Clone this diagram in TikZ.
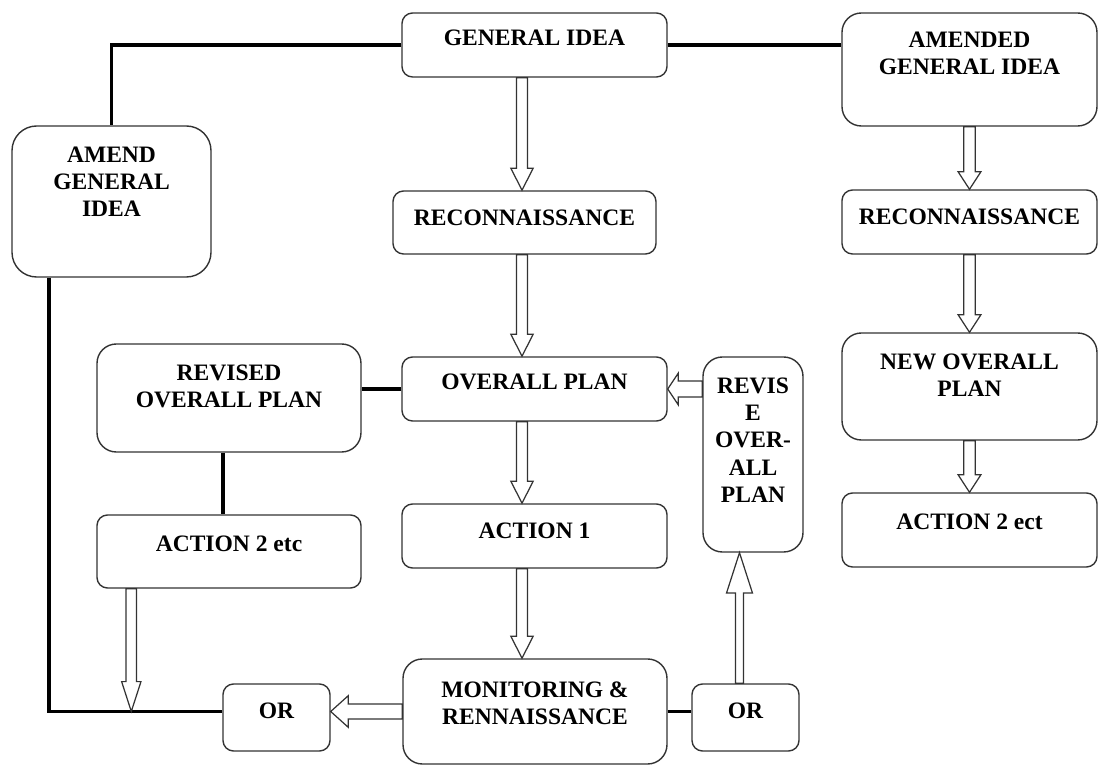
\documentclass[tikz,border=0pt]{standalone}
\usepackage{fontspec}
\setmainfont{Liberation Serif}
\usetikzlibrary{calc,fit,positioning}
\def\hollowarrow(#1)(#2)(#3:#4:#5){\path ($(#2)!#5!(#1)$) coordinate (ha);
	\draw[hollow] ($(#1)!#3!90:(#2)$) -- ($(ha)!#3!90:(#2)$) -- ($(ha)!#4!90:(#2)$) -- (#2) -- ($(ha)!#4!-90:(#2)$) -- ($(ha)!#3!-90:(#2)$) -- ($(#1)!#3!-90:(#2)$) -- cycle;}
\tikzset{
	box/.style={draw=black!80, line width=0.8pt, rounded corners=6pt, inner sep=0pt},
	bigbox/.style={box, rounded corners=11pt},
	lbl/.style={font=\fontsize{13.4}{15.5}\selectfont\bfseries, align=center, inner sep=0pt},
	link/.style={line width=2.2pt},
	hollow/.style={draw=black!80, line width=0.7pt, fill=white, line join=miter}
}
\begin{document}
\begin{tikzpicture}[x=0.02cm, y=-0.02cm]
		%%%%% START %%%%%
		\useasboundingbox (0, 0) rectangle (1100, 766);
		
		\node[box, fit={(402, 13) (667, 77)}] (gen) {};
		\node[lbl, below=10pt of gen.north] (gen-t) {GENERAL IDEA};
		\node[bigbox, fit={(842, 13) (1097, 126)}] (amended) {};
		\node[lbl, below=11pt of amended.north] (amended-t) {AMENDED\\GENERAL IDEA};
		\node[bigbox, rounded corners=14pt, fit={(12, 126) (211, 277)}] (amend) {};
		\node[lbl, below=12pt of amend.north] (amend-t) {AMEND\\GENERAL\\IDEA};
		
		\node[box, fit={(393, 191) (656, 254)}] (recA) {};
		\node[lbl, below=11pt of recA.north] (recA-t) {RECONNAISSANCE};
		\node[box, fit={(842, 190) (1097, 254)}] (recB) {};
		\node[lbl, below=11pt of recB.north] (recB-t) {RECONNAISSANCE};
		
		\node[bigbox, fit={(97, 344) (361, 452)}] (revised) {};
		\node[lbl, below=12pt of revised.north] (revised-t) {REVISED\\OVERALL PLAN};
		\node[box, fit={(402, 357) (667, 421)}] (ovplan) {};
		\node[lbl, below=10pt of ovplan.north] (ovplan-t) {OVERALL PLAN};
		\node[bigbox, fit={(703, 357) (803, 552)}] (revise) {};
		\node[lbl, below=12pt of revise.north] (revise-t) {REVIS\\E\\OVER-\\ALL\\PLAN};
		\node[bigbox, fit={(842, 333) (1097, 440)}] (newplan) {};
		\node[lbl, below=12pt of newplan.north] (newplan-t) {NEW OVERALL\\PLAN};
		
		\node[box, fit={(97, 515) (361, 588)}] (act2) {};
		\node[lbl, below=12pt of act2.north] (act2-t) {ACTION 2 etc};
		\node[box, fit={(402, 504) (667, 568)}] (act1) {};
		\node[lbl, below=11pt of act1.north] (act1-t) {ACTION 1};
		\node[box, fit={(842, 493) (1097, 567)}] (act2b) {};
		\node[lbl, below=12pt of act2b.north] (act2b-t) {ACTION 2 ect};
		
		\node[bigbox, fit={(403, 659) (667, 764)}] (mon) {};
		\node[lbl, below=13pt of mon.north] (mon-t) {MONITORING \&\\RENNAISSANCE};
		\node[box, fit={(223, 684) (330, 751)}] (orA) {};
		\node[lbl, below=11pt of orA.north] (orA-t) {OR};
		\node[box, fit={(692, 684) (799, 751)}] (orB) {};
		\node[lbl, below=11pt of orB.north] (orB-t) {OR};
		
		% thick links
		\coordinate (amendfoot) at ($(amend.south west)+(38, 0)$);
		\draw[link] (gen.west) -| (amend.north);
		\draw[link] (gen.east) -- (gen.east -| amended.west);
		\draw[link] (amendfoot) |- (mon.west -| orA.west);
		\draw[link] (ovplan.west) -- (ovplan.west -| revised.east);
		\draw[link] ($(revised.south)+(-6, 0)$) -- ($(act2.north)+(-6, 0)$);
		\draw[link] (mon.east) -- (mon.east -| orB.west);
		
		% hollow arrows
		\coordinate (midx) at (522, 0);
		\hollowarrow(gen.south -| midx)(recA.north -| midx)(3.1pt:6.3pt:12.5pt);
		\hollowarrow(recA.south -| midx)(ovplan.north -| midx)(3.1pt:6.3pt:12.5pt);
		\hollowarrow(ovplan.south -| midx)(act1.north -| midx)(3.1pt:6.3pt:12.5pt);
		\hollowarrow(act1.south -| midx)(mon.north -| midx)(3.1pt:6.3pt:12.5pt);
		\hollowarrow(amended.south)(recB.north)(3.3pt:6.5pt:10pt);
		\hollowarrow(recB.south)(newplan.north)(3.3pt:6.5pt:10pt);
		\hollowarrow(newplan.south)(act2b.north)(3.3pt:6.5pt:10pt);
		
		\coordinate (a2foot) at ($(act2.south west)+(35, 0)$);
		\hollowarrow(a2foot)(a2foot |- mon.west)(3pt:5.5pt:17pt);
		\hollowarrow(mon.west)(mon.west -| orA.east)(4.3pt:9pt:10pt);
		\coordinate (upfoot) at ($(orB.north)+(-6, 0)$);
		\hollowarrow(upfoot)(upfoot |- revise.south)(2.3pt:7.4pt:23pt);
		\hollowarrow(revise.west |- ovplan.east)(ovplan.east)(4.5pt:9pt:6pt);
		
		%%%%% END %%%%%
	\end{tikzpicture}
\end{document}
